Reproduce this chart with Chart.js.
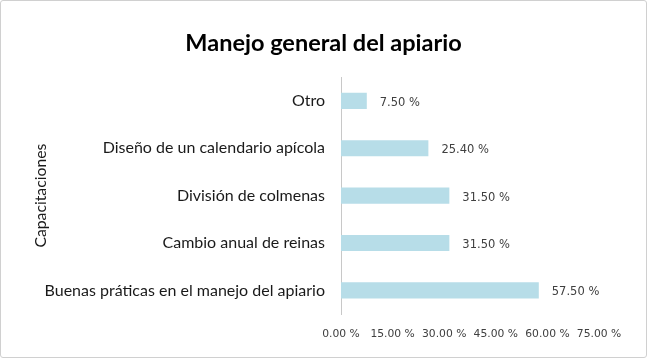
<!DOCTYPE html>
<html>
<head>
<meta charset="utf-8">
<script src="https://cdn.jsdelivr.net/npm/chart.js@4/dist/chart.umd.min.js"></script>
<style>
  html, body { margin: 0; padding: 0; background: #fff; }
  #wrap {
    position: relative;
    width: 645px;
    height: 356px;
    border: 1px solid #d0d0d0;
    border-radius: 3px;
    overflow: hidden;
  }
  canvas { display: block; }
</style>
</head>
<body>
<div id="wrap"><canvas id="chart" width="645" height="356"></canvas></div>
<script>
const categories = [
  'Otro',
  'Diseño de un calendario apícola',
  'División de colmenas',
  'Cambio anual de reinas',
  'Buenas práticas en el manejo del apiario',
];
const values = [7.5, 25.4, 31.5, 31.5, 57.5];
const axisMin = 0;
const axisMax = 75;
const axisStep = 15;

const pct = (v) => `${Number(v).toFixed(2)} %`;

// value labels to the right of each bar
const barLabels = {
  id: 'barLabels',
  afterDatasetsDraw(chart) {
    const ctx = chart.ctx;
    const meta = chart.getDatasetMeta(0);
    ctx.save();
    ctx.font = '11.5px "DejaVu Sans"';
    ctx.fillStyle = '#404040';
    ctx.textAlign = 'left';
    ctx.textBaseline = 'middle';
    meta.data.forEach((bar, i) => {
      ctx.fillText(pct(values[i]), bar.x + 13, bar.y + 2);
    });
    ctx.restore();
  },
};

new Chart(document.getElementById('chart'), {
  type: 'bar',
  data: {
    labels: categories,
    datasets: [{
      data: values,
      backgroundColor: '#b7dde8',
      borderWidth: 0,
      categoryPercentage: 1,
      barPercentage: 0.34,
    }],
  },
  options: {
    indexAxis: 'y',
    responsive: false,
    animation: false,
    layout: { padding: { left: 30, right: 30, top: 0, bottom: 10 } },
    plugins: {
      legend: { display: false },
      tooltip: { enabled: false },
      title: {
        display: true,
        text: 'Manejo general del apiario',
        color: '#000',
        font: { family: 'Lato', size: 23.5, weight: 'bold', lineHeight: 1.2 },
        padding: { top: 28, bottom: 20 },
      },
    },
    scales: {
      x: {
        min: axisMin,
        max: axisMax,
        grid: { display: false },
        border: { display: false },
        ticks: {
          stepSize: axisStep,
          padding: 6,
          color: '#404040',
          font: { family: 'DejaVu Sans', size: 10.75 },
          callback: (v) => pct(v),
        },
      },
      y: {
        grid: { display: false },
        border: { display: true, color: '#c8c8c8', width: 1 },
        afterFit: (scale) => { scale.width = 310; },
        ticks: {
          padding: 8,
          color: '#1a1a1a',
          font: { family: 'Lato', size: 16 },
        },
        title: {
          display: true,
          text: 'Capacitaciones',
          color: '#1a1a1a',
          font: { family: 'Lato', size: 15.75 },
          padding: { top: 0, bottom: 0 },
        },
      },
      // empty spacer on the right so the plot ends where the reference does
      spacer: {
        axis: 'y',
        position: 'right',
        display: true,
        grid: { display: false },
        border: { display: false },
        ticks: { display: false },
        afterFit: (scale) => { scale.width = 17; },
      },
    },
  },
  plugins: [barLabels],
});
</script>
</body>
</html>
